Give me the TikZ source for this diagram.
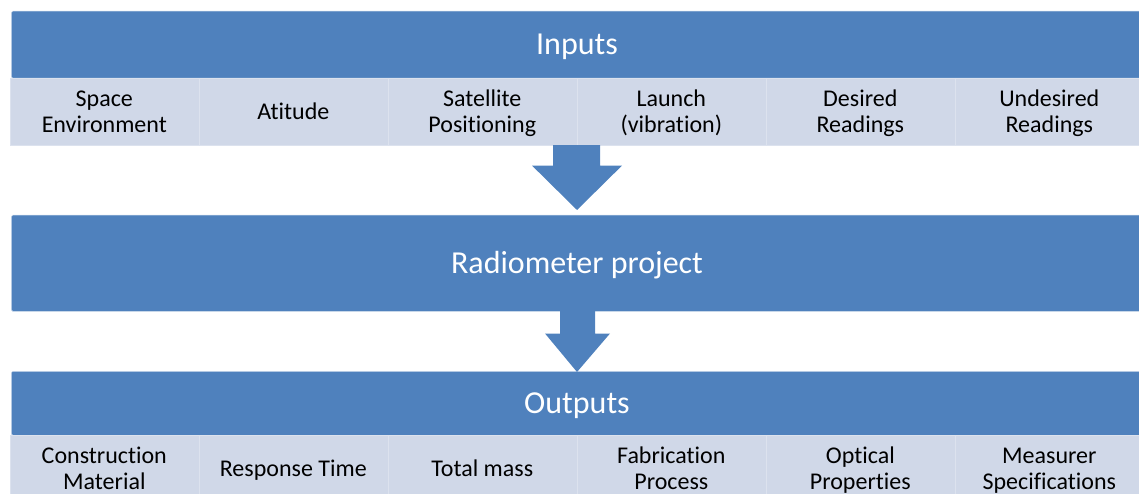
\documentclass[tikz,border=0pt]{standalone}
\usepackage{fontspec}
\setmainfont{Carlito}[Ligatures={NoCommon}]
\usetikzlibrary{calc}
\definecolor{barblue}{HTML}{4F81BD}
\definecolor{celllight}{HTML}{D0D8E8}
\newcommand{\cl}[1]{\rule{0pt}{21pt}\rule[-5pt]{0pt}{5pt}#1}
\tikzset{
  x=1pt, y=-1pt,
  bluebar/.style={fill=barblue, draw=white!70!barblue, line width=0.5pt, rounded corners=1.5pt,
    anchor=north west, inner sep=0pt, minimum width=1140pt},
  barlabel/.style={text=white, font=\fontsize{32}{36}\selectfont},
  cellbox/.style={fill=celllight, draw=white!25!celllight, line width=0.6pt,
    anchor=north west, inner sep=0pt, minimum width=189pt, minimum height=67pt,
    align=center, font=\fontsize{24}{26}\selectfont, text=black},
  flowarrow/.style={fill=barblue, draw=none}
}
\begin{document}
\begin{tikzpicture}
\useasboundingbox (0,0) rectangle (1139,494);
\clip (0,0) rectangle (1139,494);
% Inputs
\node[bluebar, minimum height=67pt] (inputs) at (11,11) {};
\node[barlabel] (inputslabel) at (577,47) {Inputs};
\node[cellbox] (i1) at (9.5,78) {\cl{Space}\\\cl{Environment}};
\node[cellbox] (i2) at (198.5,78) {\cl{Atitude}};
\node[cellbox] (i3) at (387.5,78) {\cl{Satellite}\\\cl{Positioning}};
\node[cellbox] (i4) at (576.5,78) {\cl{Launch}\\\cl{(vibration)}};
\node[cellbox] (i5) at (765.5,78) {\cl{Desired}\\\cl{Readings}};
\node[cellbox] (i6) at (954.5,78) {\cl{Undesired}\\\cl{Readings}};
% Radiometer project
\node[bluebar, minimum height=96pt] (proj) at (11,215) {};
\node[barlabel] (projlabel) at (577,265) {Radiometer project};
% Outputs
\node[bluebar, minimum height=64pt] (outputs) at (11,371) {};
\node[barlabel] (outputslabel) at (577,406) {Outputs};
\node[cellbox] (o1) at (9.5,435) {\cl{Construction}\\\cl{Material}};
\node[cellbox] (o2) at (198.5,435) {\cl{Response Time}};
\node[cellbox] (o3) at (387.5,435) {\cl{Total mass}};
\node[cellbox] (o4) at (576.5,435) {\cl{Fabrication}\\\cl{Process}};
\node[cellbox] (o5) at (765.5,435) {\cl{Optical}\\\cl{Properties}};
\node[cellbox] (o6) at (954.5,435) {\cl{Measurer}\\\cl{Specifications}};
% Arrow 1: from inputs cells to project bar
\coordinate (a1s) at (i4.south west -| inputslabel);
\coordinate (a1e) at (proj.north -| inputslabel);
\fill[flowarrow] ($(a1s)+(-24,-0.5)$) -- ($(a1s)+(23,-0.5)$) -- ($(a1s)+(23,20)$) -- ($(a1s)+(45,20)$)
  -- ($(a1e)+(0,-5)$) -- ($(a1s)+(-45,20)$) -- ($(a1s)+(-24,20)$) -- cycle;
% Arrow 2: from project bar to outputs bar
\coordinate (a2s) at (proj.south -| inputslabel);
\coordinate (a2e) at (outputs.north -| inputslabel);
\fill[flowarrow] ($(a2s)+(-17,-1)$) -- ($(a2s)+(18,-1)$) -- ($(a2s)+(18,22)$) -- ($(a2s)+(33,22)$)
  -- ($(a2e)+(0,1)$) -- ($(a2s)+(-32,22)$) -- ($(a2s)+(-17,22)$) -- cycle;
\end{tikzpicture}
\end{document}
